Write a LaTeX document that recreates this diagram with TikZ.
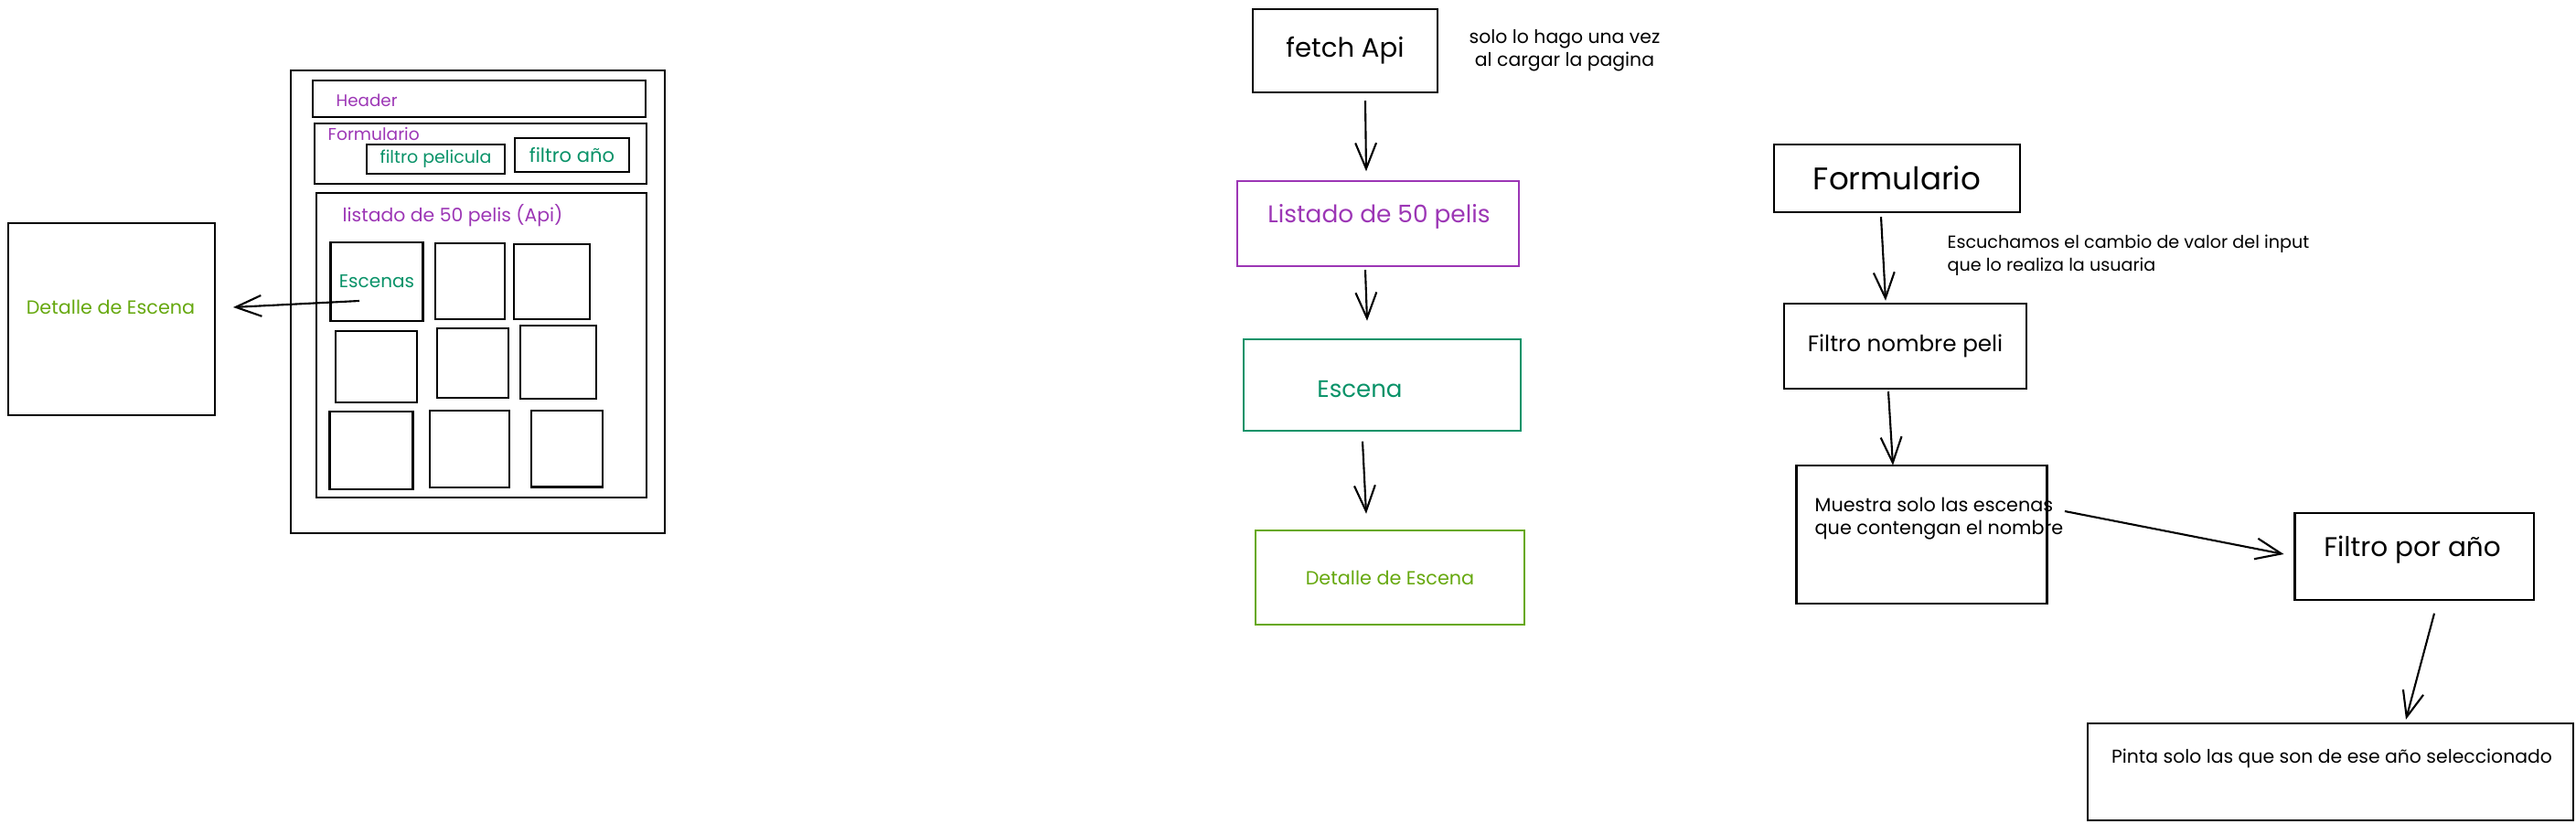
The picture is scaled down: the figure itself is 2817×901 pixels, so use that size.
\documentclass[tikz,border=0pt]{standalone}
\usepackage{fontspec}
\setmainfont{Poppins}
\usetikzlibrary{arrows.meta,calc}
\definecolor{violeta}{HTML}{9C36B5}
\definecolor{verdeazul}{HTML}{099268}
\definecolor{lima}{HTML}{66A80F}

\begin{document}
\begin{tikzpicture}
  [x=0.01cm,y=-0.01cm,
   box/.style={draw,rectangle,line width=0.7pt,inner sep=0pt},
   sz/.style 2 args={minimum width=#1*0.01cm,minimum height=#2*0.01cm},
   fs/.style={font=\fontsize{#1}{7.1}\selectfont},
   lbl/.style={anchor=west,inner sep=0pt,align=left},
   arr/.style={-{Straight Barb[length=8pt,width=6.5pt]},line width=0.6pt}]
  \useasboundingbox (0,0) rectangle (2817,901);

  % pagina (boceto)
  \node[box,sz={409}{506}] (pag) at (522.5,330) {};
  \node[box,sz={364}{40}] (head) at (524,108) {};
  \node[lbl,fs=5.2,text=violeta] (headtxt) at (367,110) {Header};
  \node[box,sz={363}{66}] (form) at (525.5,168) {};
  \node[lbl,fs=5.3,text=violeta] (formtxt) at (358,147) {Formulario};
  \node[box,sz={151}{32},fs=5.4,text=verdeazul] (fpeli) at (476.5,174) {filtro pelicula};
  \node[box,sz={125}{37},fs=6,text=verdeazul] (fanio) at (625.5,169.5) {filtro año};
  \node[box,sz={361}{333}] (lista) at (526.5,377.5) {};
  \node[lbl,fs=5.8,text=violeta] (listatxt) at (374,235.5) {listado de 50 pelis (Api)};
  \node[box,sz={101}{86},fs=5.7,text=verdeazul] (c1) at (412,308) {Escenas};
  \node[box,sz={76}{83}] (c2) at (514,307.5) {};
  \node[box,sz={83}{82}] (c3) at (603.5,308) {};
  \node[box,sz={89}{78}] (c4) at (411.5,401) {};
  \node[box,sz={78.5}{76}] (c5) at (517,397) {};
  \node[box,sz={83}{80}] (c6) at (610.5,396) {};
  \node[box,sz={91}{85}] (c7) at (406,492.5) {};
  \node[box,sz={87}{84}] (c8) at (513.5,491) {};
  \node[box,sz={78}{83.5}] (c9) at (620,490.75) {};
  \node[box,sz={225.5}{210}] (det) at (122,349) {};
  \node[fs=5.9,text=lima] (dettxt) at (121,336) {Detalle de Escena};

  % flujo de datos
  \node[box,sz={202}{91},fs=8.3] (fetch) at (1471,55.5) {fetch Api};
  \node[fs=5.8,align=center] (nota1) at (1711,55) {solo lo hago una vez\\al cargar la pagina};
  \node[box,draw=violeta,sz={308}{93}] (listado) at (1507,244.5) {};
  \node[fs=7.5,text=violeta] (listadotxt) at (1508,236.5) {Listado de 50 pelis};
  \node[box,draw=verdeazul,sz={303}{100}] (escena) at (1511.5,421) {};
  \node[fs=7.4,text=verdeazul] (escenatxt) at (1487,426) {Escena};
  \node[box,draw=lima,sz={294}{103},fs=5.9,text=lima] (detalle) at (1520,631.5) {Detalle de Escena};

  % filtros
  \node[box,sz={269}{74},fs=9.7] (form2) at (2074.5,195) {Formulario};
  \node[lbl,fs=5.45] (nota2) at (2129,279) {Escuchamos el cambio de valor del input\\que lo realiza la usuaria};
  \node[box,sz={265}{93},fs=7] (fnombre) at (2083.5,378.5) {Filtro nombre peli};
  \node[box,sz={274}{151}] (muestra) at (2101.7,584.5) {};
  \node[lbl,fs=5.9] (muestratxt) at (1984,567) {Muestra solo las escenas\\que contengan el nombre};
  \node[box,sz={261.5}{95}] (fanio2) at (2640,608.5) {};
  \node[fs=8.4] (fanio2txt) at (2638,601.5) {Filtro por año};
  \node[box,sz={531}{106}] (pinta) at (2548.5,844) {};
  \node[fs=5.8] (pintatxt) at (2550,829) {Pinta solo las que son de ese año seleccionado};

  \draw[arr] ($(c1.center)+(-19,21)$) -- ($(det.east)+(19,-13)$);
  \draw[arr] ($(fetch.south)+(22,8)$) -- ($(listado.north)+(-13,-9.5)$);
  \draw[arr] ($(listado.south)+(-14,3)$) -- ($(escena.north)+(-16.5,-19)$);
  \draw[arr] ($(escena.south)+(-21.5,10.5)$) -- ($(detalle.north)+(-26,-17)$);
  \draw[arr] ($(form2.south)+(-17.5,4)$) -- ($(fnombre.north)+(-21.5,-2)$);
  \draw[arr] ($(fnombre.south)+(-18.5,2)$) -- ($(muestra.north)+(-31.7,1)$);
  \draw[arr] ($(muestra.east)+(18,-25.5)$) -- ($(fanio2.west)+(-10.5,-2.5)$);
  \draw[arr] ($(fanio2.south)+(22,13.5)$) -- ($(pinta.north)+(82.5,-3)$);
\end{tikzpicture}
\end{document}
